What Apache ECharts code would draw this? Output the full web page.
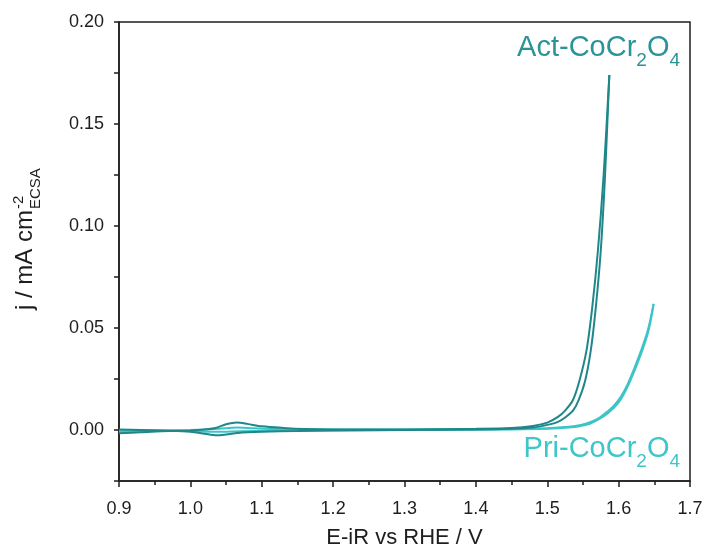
<!DOCTYPE html>
<html><head><meta charset="utf-8">
<script src="https://cdn.jsdelivr.net/npm/echarts@6/dist/echarts.min.js"></script>
<style>html,body{margin:0;padding:0;background:#fff}#c{width:707px;height:551px}</style>
</head><body><div id="c"></div>
<script>
// ---- data ----
const actFwdX = [0.90, 0.93, 0.96, 1.00, 1.02, 1.035, 1.05, 1.065, 1.08, 1.10, 1.13, 1.16, 1.20, 1.30, 1.40, 1.45, 1.48, 1.50, 1.515, 1.525, 1.536, 1.545, 1.555, 1.563, 1.571, 1.579, 1.587];
const actFwdY = [-0.0016, -0.0011, -0.0006, -0.0002, 0.0002, 0.0010, 0.0028, 0.0037, 0.0030, 0.0018, 0.0010, 0.0005, 0.0003, 0.0003, 0.0006, 0.0010, 0.0020, 0.0036, 0.0064, 0.0095, 0.0147, 0.0240, 0.0390, 0.0600, 0.0880, 0.1250, 0.1740];
const actRevX = [0.90, 0.93, 0.96, 1.00, 1.02, 1.037, 1.05, 1.066, 1.08, 1.10, 1.15, 1.20, 1.30, 1.40, 1.45, 1.48, 1.50, 1.515, 1.526, 1.536, 1.544, 1.553, 1.561, 1.568, 1.575, 1.581, 1.587];
const actRevY = [0.0003, 0.0000, -0.0003, -0.0008, -0.0018, -0.0026, -0.0022, -0.0015, -0.0011, -0.0008, -0.0005, -0.0002, 0.0000, 0.0002, 0.0006, 0.0012, 0.0025, 0.0040, 0.0064, 0.0095, 0.0147, 0.0240, 0.0390, 0.0600, 0.0880, 0.1250, 0.1740];
const priFwdX = [0.90, 0.95, 1.00, 1.04, 1.065, 1.09, 1.15, 1.30, 1.45, 1.50, 1.53, 1.547, 1.561, 1.573, 1.584, 1.594, 1.603, 1.612, 1.621, 1.631, 1.641, 1.649];
const priFwdY = [-0.0008, -0.0004, 0.0000, 0.0006, 0.0012, 0.0008, 0.0003, 0.0002, 0.0005, 0.0009, 0.0016, 0.0025, 0.0040, 0.0060, 0.0090, 0.0122, 0.0163, 0.0220, 0.0294, 0.0385, 0.0490, 0.0618];
const priRevX = [0.90, 0.95, 1.00, 1.04, 1.07, 1.15, 1.30, 1.45, 1.50, 1.53, 1.547, 1.561, 1.584, 1.603, 1.621, 1.641, 1.649];
const priRevY = [0.0000, -0.0002, -0.0005, -0.0009, -0.0006, -0.0002, 0.0000, 0.0003, 0.0006, 0.0012, 0.0020, 0.0033, 0.0080, 0.0150, 0.0280, 0.0475, 0.0618];

const xTickLabels = ['0.9', '1.0', '1.1', '1.2', '1.3', '1.4', '1.5', '1.6', '1.7'];
const yTickLabels = ['0.00', '0.05', '0.10', '0.15', '0.20'];
const xTitle = 'E-iR vs RHE / V';
const yTitleMain = 'j / mA cm';
const yTitleSup = '-2';
const yTitleSub = 'ECSA';
const actLabel = [['Act-CoCr', 0], ['2', 1], ['O', 0], ['4', 1]];
const priLabel = [['Pri-CoCr', 0], ['2', 1], ['O', 0], ['4', 1]];

// ---- styles ----
const FONT = "'Liberation Sans', Arial, sans-serif";
const ACT_LINE = '#1f8789';
const ACT_TEXT = '#2a9496';
const PRI_LINE = '#3cc4c8';
const PRI_TEXT = '#3ec6ca';
const INK = '#1e1e1e';
const LBL_MAIN = 29, LBL_SUB = 19, SUB_DROP = 8;

function zip(xs, ys) { return xs.map((x, i) => [x, ys[i]]); }

const ctx = document.createElement('canvas').getContext('2d');
function textW(t, size) { ctx.font = size + 'px ' + FONT; return ctx.measureText(t).width; }
const mainW = textW(yTitleMain, 24);

// formula label as pieces, right-aligned at rightX, main baseline at baseY
function formulaLabel(pieces, rightX, baseY, color) {
  const widths = pieces.map(p => textW(p[0], p[1] ? LBL_SUB : LBL_MAIN));
  const total = widths.reduce((a, b) => a + b, 0);
  let x = rightX - total;
  const els = [];
  pieces.forEach((p, i) => {
    const size = p[1] ? LBL_SUB : LBL_MAIN;
    const by = p[1] ? baseY + SUB_DROP : baseY;
    els.push({ type: 'text', x: x, y: by, z: 10, silent: true,
      style: { text: p[0], font: size + 'px ' + FONT, fill: color, align: 'left', verticalAlign: 'bottom' } });
    x += widths[i];
  });
  return els;
}

const chart = echarts.init(document.getElementById('c'), null, { renderer: 'canvas' });
const lineSeries = (name, xs, ys, color) => ({
  name, type: 'line', data: zip(xs, ys), showSymbol: false, smooth: 0.3,
  lineStyle: { color, width: 2 }, itemStyle: { color }, z: 3
});

chart.setOption({
  animation: false,
  backgroundColor: '#ffffff',
  grid: { left: 119, right: 17, top: 22, bottom: 70, containLabel: false, outerBoundsMode: 'none',
    show: true, borderColor: INK, borderWidth: 1.5, backgroundColor: 'transparent' },
  xAxis: {
    type: 'value', min: 0.9, max: 1.7, interval: 0.1,
    name: xTitle, nameLocation: 'middle', nameGap: 46,
    nameTextStyle: { fontFamily: FONT, fontSize: 22, color: INK },
    axisLine: { show: true, onZero: false, lineStyle: { color: INK, width: 1.5 } },
    axisTick: { show: true, inside: false, length: 6, lineStyle: { color: INK, width: 1.5 } },
    minorTick: { show: true, splitNumber: 2, length: 4, lineStyle: { color: INK, width: 1.5 } },
    splitLine: { show: false },
    axisLabel: { fontFamily: FONT, fontSize: 18, color: INK, margin: 19,
      formatter: v => { const i = Math.round((v - 0.9) / 0.1); return Math.abs(v - (0.9 + i * 0.1)) < 1e-6 ? xTickLabels[i] : ''; } }
  },
  yAxis: {
    type: 'value', min: -0.025, max: 0.2, interval: 0.025,
    axisLine: { show: true, onZero: false, lineStyle: { color: INK, width: 1.5 } },
    axisTick: { show: true, inside: false, length: 5, lineStyle: { color: INK, width: 1.5 } },
    splitLine: { show: false },
    axisLabel: { fontFamily: FONT, fontSize: 18, color: INK, margin: 15, showMinLabel: true, showMaxLabel: true,
      formatter: v => { const k = Math.round(v / 0.05); return (k >= 0 && Math.abs(v - k * 0.05) < 1e-6) ? yTickLabels[k] : ''; } }
  },
  series: [
    lineSeries('Pri fwd', priFwdX, priFwdY, PRI_LINE),
    lineSeries('Pri rev', priRevX, priRevY, PRI_LINE),
    lineSeries('Act fwd', actFwdX, actFwdY, ACT_LINE),
    lineSeries('Act rev', actRevX, actRevY, ACT_LINE)
  ],
  graphic: [].concat(
    formulaLabel(actLabel, 680, 62, ACT_TEXT),
    formulaLabel(priLabel, 680, 463, PRI_TEXT),
    [{ type: 'group', x: 25, y: 310, rotation: Math.PI / 2, children: [
      { type: 'text', x: 0, y: 0, style: { text: yTitleMain, font: '24px ' + FONT, fill: INK, align: 'left', verticalAlign: 'middle' } },
      { type: 'text', x: mainW + 1, y: 2.5, style: {
          text: '{a|' + yTitleSup + '}\n{b|' + yTitleSub + '}', align: 'left', verticalAlign: 'middle', fill: INK,
          rich: { a: { fontSize: 15, fontFamily: FONT, fill: INK, lineHeight: 17 }, b: { fontSize: 15, fontFamily: FONT, fill: INK, lineHeight: 17 } } } }
    ] }]
  )
});
</script>
</body></html>
